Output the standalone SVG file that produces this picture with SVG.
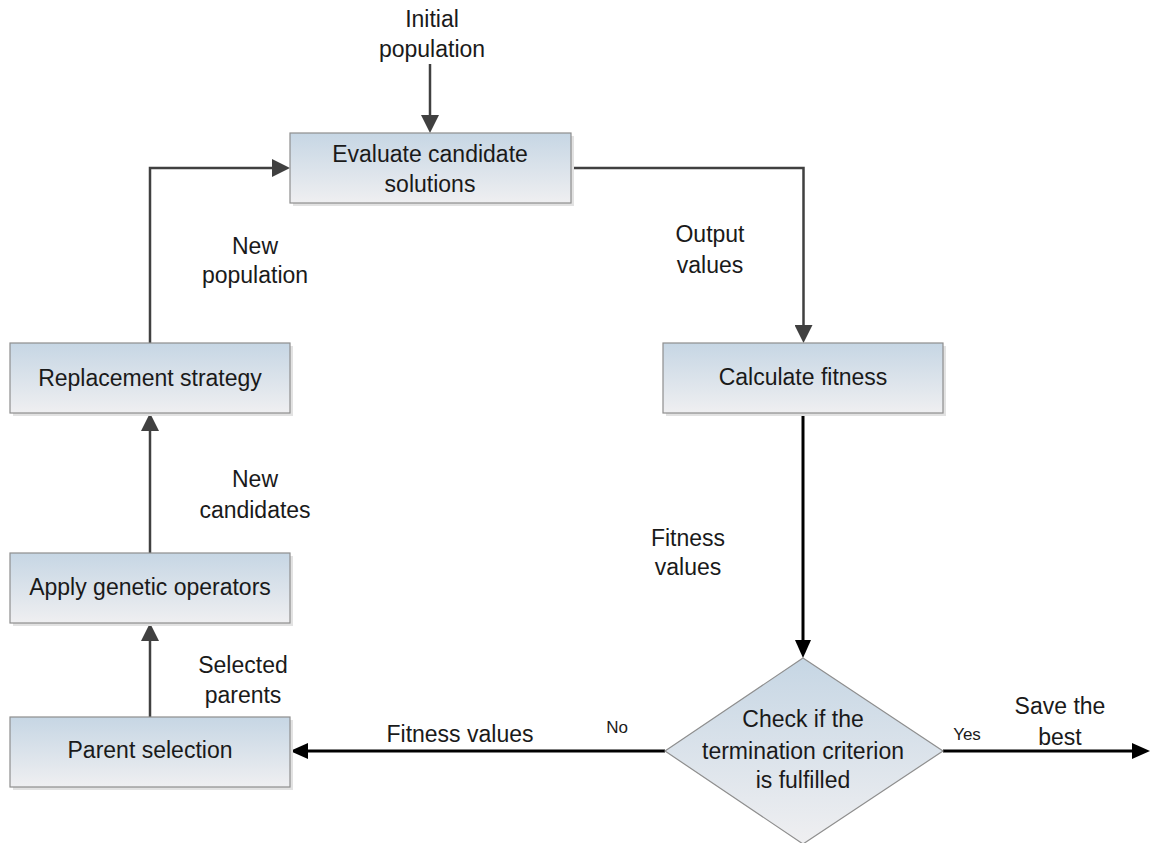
<svg xmlns="http://www.w3.org/2000/svg" width="1152" height="843" viewBox="0 0 1152 843">
<defs>
<linearGradient id="fillg" x1="0" y1="0" x2="0" y2="1">
<stop offset="0" stop-color="#c6d6e4"/>
<stop offset="1" stop-color="#efeff1"/>
</linearGradient>
<marker id="ag" viewBox="0 0 18 18" refX="2" refY="9" markerWidth="18" markerHeight="18" markerUnits="userSpaceOnUse" orient="auto">
<path d="M0,0 L18,9 L0,18 z" fill="#404040"/>
</marker>
<marker id="ab" viewBox="0 0 18 16" refX="2" refY="8" markerWidth="18" markerHeight="16" markerUnits="userSpaceOnUse" orient="auto">
<path d="M0,0 L18,8 L0,16 z" fill="#000"/>
</marker>
<style>
.box{fill:url(#fillg);stroke:#8e8e8e;stroke-width:1.2}
.sh{fill:#e2e2e2}
.t{font-family:"Liberation Sans",Arial,sans-serif;font-size:23px;fill:#1a1a1a;text-anchor:middle}
.s{font-family:"Liberation Sans",Arial,sans-serif;font-size:17px;fill:#1a1a1a;text-anchor:middle}
.cg{fill:none;stroke:#404040;stroke-width:2.5;marker-end:url(#ag)}
.cb{fill:none;stroke:#000;stroke-width:3;marker-end:url(#ab)}
</style>
</defs>
<rect width="1152" height="843" fill="#fff"/>
<g id="connectors">
<path class="cg" d="M430,64 V117"/>
<path class="cg" d="M571,168 H803.5 V327"/>
<path class="cb" d="M803,413 V642"/>
<path class="cb" d="M665,751 H306"/>
<path class="cb" d="M943,751 H1134"/>
<path class="cg" d="M150,717 V639"/>
<path class="cg" d="M150,553 V429"/>
<path class="cg" d="M150,343 V168 H274"/>
</g>
<g id="n-evaluate">
<rect class="sh" x="293" y="136" width="281" height="70"/>
<rect class="box" x="290" y="133" width="281" height="70"/>
<text class="t" x="430" y="162">Evaluate candidate</text>
<text class="t" x="430" y="192">solutions</text>
</g>
<g id="n-replacement">
<rect class="sh" x="13" y="346" width="280" height="70"/>
<rect class="box" x="10" y="343" width="280" height="70"/>
<text class="t" x="150" y="386">Replacement strategy</text>
</g>
<g id="n-calculate">
<rect class="sh" x="666" y="346" width="280" height="70"/>
<rect class="box" x="663" y="343" width="280" height="70"/>
<text class="t" x="803" y="385">Calculate fitness</text>
</g>
<g id="n-apply">
<rect class="sh" x="13" y="556" width="280" height="70"/>
<rect class="box" x="10" y="553" width="280" height="70"/>
<text class="t" x="150" y="595">Apply genetic operators</text>
</g>
<g id="n-parent">
<rect class="sh" x="13" y="720" width="280" height="70"/>
<rect class="box" x="10" y="717" width="280" height="70"/>
<text class="t" x="150" y="758">Parent selection</text>
</g>
<g id="n-check">
<polygon class="box" points="803,658 943,751 803,844 665,751"/>
<text class="t" x="803" y="727">Check if the</text>
<text class="t" x="803" y="759">termination criterion</text>
<text class="t" x="803" y="788">is fulfilled</text>
</g>
<g id="labels">
<text class="t" x="432" y="27">Initial</text>
<text class="t" x="432" y="57">population</text>
<text class="t" x="255" y="254">New</text>
<text class="t" x="255" y="283">population</text>
<text class="t" x="710" y="242">Output</text>
<text class="t" x="710" y="273">values</text>
<text class="t" x="255" y="487">New</text>
<text class="t" x="255" y="518">candidates</text>
<text class="t" x="688" y="546">Fitness</text>
<text class="t" x="688" y="575">values</text>
<text class="t" x="243" y="673">Selected</text>
<text class="t" x="243" y="703">parents</text>
<text class="t" x="460" y="742">Fitness values</text>
<text class="s" x="617" y="733">No</text>
<text class="s" x="967" y="740">Yes</text>
<text class="t" x="1060" y="714">Save the</text>
<text class="t" x="1060" y="745">best</text>
</g>
</svg>
